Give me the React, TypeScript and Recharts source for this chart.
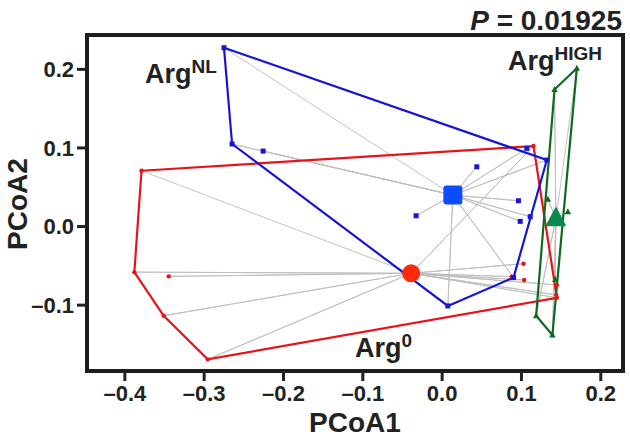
import React from "react";
import {
  ScatterChart,
  Scatter,
  XAxis,
  YAxis,
  ReferenceArea,
} from "recharts";

// PCoA coordinates: [PCoA1, PCoA2]
const ARG0_POINTS: [number, number][] = [
  [-0.379, 0.071],
  [-0.388, -0.058],
  [-0.351, -0.1135],
  [-0.2955, -0.169],
  [0.1446, -0.0906],
  [0.1152, 0.1024],
  [-0.3447, -0.0634],
  [0.1026, -0.0473],
  [0.1034, -0.068],
  [0.0879, -0.0638],
  [0.1446, -0.0744],
  [0.1438, -0.087],
];
const ARG0_HULL = [0, 1, 2, 3, 4, 5, 0];
const ARG0_CENTROID: [number, number] = [-0.039, -0.0595];

const ARGNL_POINTS: [number, number][] = [
  [-0.275, 0.2275],
  [-0.2648, 0.105],
  [0.0072, -0.101],
  [0.09, -0.065],
  [0.132, 0.0846],
  [-0.2257, 0.096],
  [0.0437, 0.076],
  [-0.0328, 0.0137],
  [0.0962, 0.0328],
  [0.0984, 0.0066],
  [0.111, 0.0125],
  [0.1068, 0.0995],
];
const ARGNL_HULL = [0, 4, 3, 2, 1, 0];
const ARGNL_CENTROID: [number, number] = [0.0135, 0.04];

const ARGHIGH_POINTS: [number, number][] = [
  [0.1698, 0.2013],
  [0.1417, 0.1745],
  [0.1185, -0.1135],
  [0.139, -0.138],
  [0.1333, 0.0346],
  [0.1585, 0.0188],
  [0.1425, -0.067],
];
const ARGHIGH_HULL = [0, 1, 2, 3, 0];
const ARGHIGH_CENTROID: [number, number] = [0.1434, 0.0104];

const X_TICKS = [-0.4, -0.3, -0.2, -0.1, 0.0, 0.1, 0.2];
const Y_TICKS = [-0.1, 0.0, 0.1, 0.2];
const X_DOMAIN: [number, number] = [-0.4477, 0.228];
const Y_DOMAIN: [number, number] = [-0.1838, 0.2437];

const FONT = "'Liberation Sans', Arial, Helvetica, sans-serif";
const RED = "#e8131a";
const BLUE = "#1515d8";
const GREEN = "#0f6a1e";

const toXY = (p: [number, number]) => ({ x: p[0], y: p[1] });

// alternate point / centroid so one line draws every spoke
const spokes = (pts: [number, number][], c: [number, number]) =>
  pts.flatMap((p) => [toXY(p), toXY(c)]);

const hull = (pts: [number, number][], idx: number[]) =>
  idx.map((i) => toXY(pts[i]));

const fmt = (v: number) => {
  const s = Math.abs(v).toFixed(1);
  return v < -1e-9 ? `\u2013${s}` : s;
};

const Nothing = () => <g />;

const Dot = ({ cx, cy, fill }: any) => <circle cx={cx} cy={cy} r={2.2} fill={fill} />;
const Sq = ({ cx, cy, fill }: any) => (
  <rect x={cx - 2.5} y={cy - 2.5} width={5} height={5} fill={fill} />
);
const Tri = ({ cx, cy, fill }: any) => (
  <path d={`M${cx},${cy - 3.5} L${cx + 3.2},${cy + 2.5} L${cx - 3.2},${cy + 2.5} Z`} fill={fill} />
);

const BigDot = ({ cx, cy }: any) => <circle cx={cx} cy={cy} r={9} fill="#ff2a0c" />;
const BigSq = ({ cx, cy }: any) => (
  <rect x={cx - 9.5} y={cy - 9.5} width={19} height={19} rx={3} fill="#0a4cff" />
);
const BigTri = ({ cx, cy }: any) => (
  <path
    d={`M${cx},${cy - 10} L${cx + 9},${cy + 7} L${cx - 9},${cy + 7} Z`}
    fill="#0a8a4c"
    stroke="#0a8a4c"
    strokeWidth={2}
    strokeLinejoin="round"
  />
);

const tickStyle = { fontSize: 22, fontWeight: "bold", fill: "#222", fontFamily: FONT };

export default function App() {
  return (
    <div style={{ position: "absolute", left: 0, top: 0, width: 630, height: 442, background: "#fff" }}>
      <ScatterChart width={630} height={442} margin={{ top: 35, right: 7, bottom: 0, left: 0 }}>
        <XAxis
          type="number"
          dataKey="x"
          domain={X_DOMAIN}
          allowDataOverflow
          ticks={X_TICKS}
          tickFormatter={fmt}
          height={71}
          axisLine={false}
          tickSize={10}
          tickMargin={4}
          tickLine={{ stroke: "#222", strokeWidth: 3 }}
          tick={tickStyle}
        />
        <YAxis
          type="number"
          dataKey="y"
          domain={Y_DOMAIN}
          allowDataOverflow
          ticks={Y_TICKS}
          tickFormatter={fmt}
          width={87}
          axisLine={false}
          tickSize={10}
          tickMargin={3}
          tickLine={{ stroke: "#222", strokeWidth: 3 }}
          tick={tickStyle}
        />

        {/* spokes to the group centroids */}
        <Scatter data={spokes(ARG0_POINTS, ARG0_CENTROID)} line={{ stroke: "#bdbdbd", strokeWidth: 0.9 }} shape={<Nothing />} isAnimationActive={false} />
        <Scatter data={spokes(ARGNL_POINTS, ARGNL_CENTROID)} line={{ stroke: "#bdbdbd", strokeWidth: 0.9 }} shape={<Nothing />} isAnimationActive={false} />
        <Scatter data={spokes(ARGHIGH_POINTS, ARGHIGH_CENTROID)} line={{ stroke: "#bdbdbd", strokeWidth: 0.9 }} shape={<Nothing />} isAnimationActive={false} />

        {/* convex hulls */}
        <Scatter data={hull(ARG0_POINTS, ARG0_HULL)} line={{ stroke: RED, strokeWidth: 2.2 }} shape={<Nothing />} isAnimationActive={false} />
        <Scatter data={hull(ARGNL_POINTS, ARGNL_HULL)} line={{ stroke: BLUE, strokeWidth: 2.2 }} shape={<Nothing />} isAnimationActive={false} />
        <Scatter data={hull(ARGHIGH_POINTS, ARGHIGH_HULL)} line={{ stroke: GREEN, strokeWidth: 2.2 }} shape={<Nothing />} isAnimationActive={false} />

        {/* samples */}
        <Scatter data={ARG0_POINTS.map(toXY)} fill={RED} shape={<Dot />} isAnimationActive={false} />
        <Scatter data={ARGNL_POINTS.map(toXY)} fill={BLUE} shape={<Sq />} isAnimationActive={false} />
        <Scatter data={ARGHIGH_POINTS.map(toXY)} fill={GREEN} shape={<Tri />} isAnimationActive={false} />

        {/* centroids */}
        <Scatter data={[toXY(ARG0_CENTROID)]} shape={<BigDot />} isAnimationActive={false} />
        <Scatter data={[toXY(ARGNL_CENTROID)]} shape={<BigSq />} isAnimationActive={false} />
        <Scatter data={[toXY(ARGHIGH_CENTROID)]} shape={<BigTri />} isAnimationActive={false} />

        <ReferenceArea
          x1={X_DOMAIN[0]}
          x2={X_DOMAIN[1]}
          y1={Y_DOMAIN[0]}
          y2={Y_DOMAIN[1]}
          fill="none"
          stroke="#1e1e1e"
          strokeWidth={4}
          ifOverflow="visible"
        />
      </ScatterChart>

      <svg
        width={630}
        height={442}
        style={{ position: "absolute", left: 0, top: 0, pointerEvents: "none" }}
        fontFamily={FONT}
        fontWeight="bold"
        fill="#222"
      >
        <text x={622} y={30} fontSize={28} textAnchor="end">
          <tspan fontStyle="italic">P</tspan> = 0.01925
        </text>
        <text x={145} y={83} fontSize={27}>
          Arg<tspan dy={-10} fontSize={19}>NL</tspan>
        </text>
        <text x={508} y={70} fontSize={27}>
          Arg<tspan dy={-10} fontSize={19}>HIGH</tspan>
        </text>
        <text x={355} y={357} fontSize={27}>
          Arg<tspan dy={-10} fontSize={19}>0</tspan>
        </text>
        <text x={355} y={432} fontSize={28} textAnchor="middle">
          PCoA1
        </text>
        <text x={27} y={204} fontSize={28} textAnchor="middle" transform="rotate(-90 27 204)">
          PCoA2
        </text>
      </svg>
    </div>
  );
}
